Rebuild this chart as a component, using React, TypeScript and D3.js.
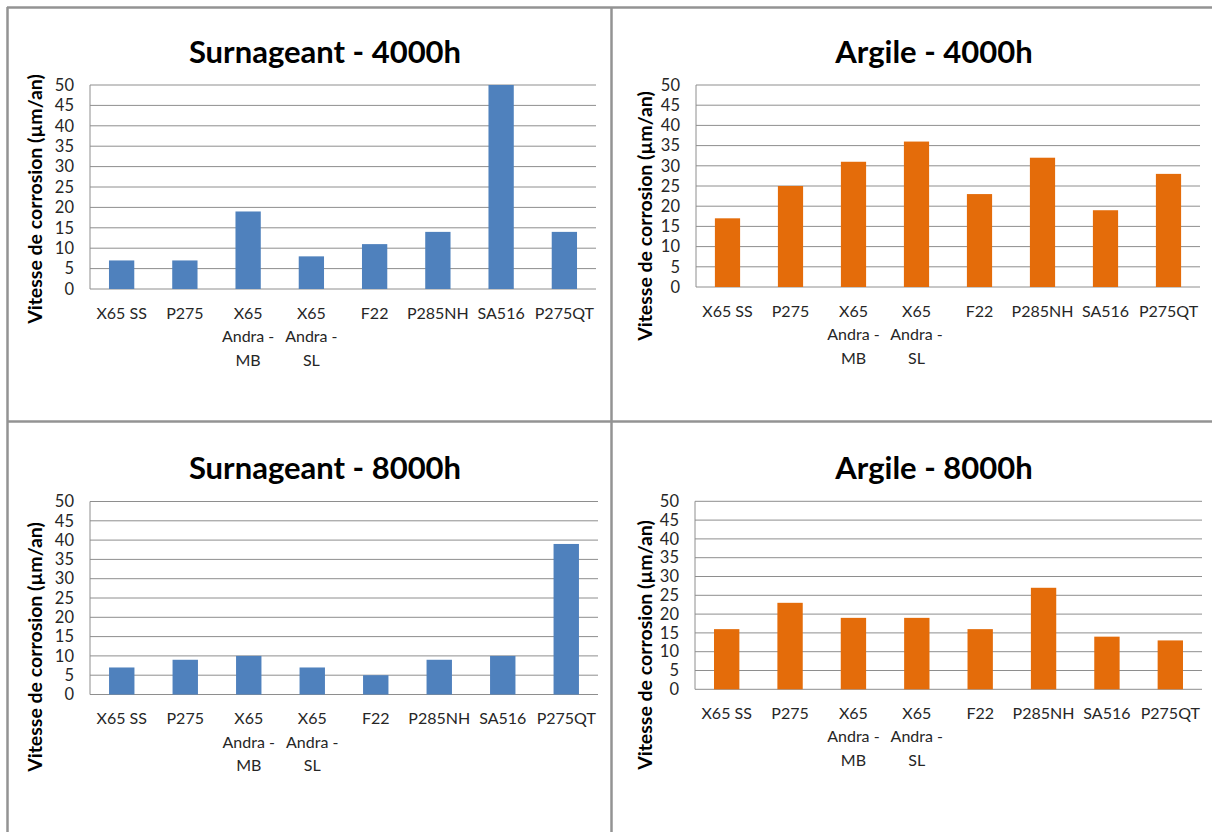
import React from "react";
import * as d3 from "d3";

const categories = [
  "X65 SS",
  "P275",
  "X65\nAndra -\nMB",
  "X65\nAndra -\nSL",
  "F22",
  "P285NH",
  "SA516",
  "P275QT",
];
const yTicks = [0, 5, 10, 15, 20, 25, 30, 35, 40, 45, 50];
const yLabel = "Vitesse de corrosion (µm/an)";

const surnageant4000 = [7, 7, 19, 8, 11, 14, 50, 14];
const argile4000 = [17, 25, 31, 36, 23, 32, 19, 28];
const surnageant8000 = [7, 9, 10, 7, 5, 9, 10, 39];
const argile8000 = [16, 23, 19, 19, 16, 27, 14, 13];

const BLUE = "#4f81bd";
const ORANGE = "#e46c0a";
const FONT = "Lato, 'Open Sans', sans-serif";

type ChartProps = {
  title: string;
  values: number[];
  color: string;
  left: number;
  right: number;
  top: number;
  bottom: number;
  titleX: number;
  titleY: number;
  labelX: number;
  labelY: number;
};

function Chart(p: ChartProps) {
  const x = d3.scaleBand<string>().domain(categories).range([p.left, p.right]).paddingInner(0.6).paddingOuter(0.3);
  const y = d3.scaleLinear().domain([0, 50]).range([p.bottom, p.top]);
  return (
    <g>
      <text x={p.titleX} y={p.titleY} textAnchor="middle" fontFamily={FONT} fontWeight="bold" fontSize={31} fill="#000">
        {p.title}
      </text>
      {yTicks.map((t) => (
        <g key={t}>
          <line x1={p.left} x2={p.right} y1={y(t)} y2={y(t)} stroke="#8e8e8e" strokeWidth={1} />
          <text x={p.left - 16} y={y(t)} dy="0.35em" textAnchor="end" fontFamily={FONT} fontSize={16.5} fill="#262626">
            {t}
          </text>
        </g>
      ))}
      <line x1={p.left} x2={p.left} y1={p.top} y2={p.bottom} stroke="#8e8e8e" strokeWidth={1} />
      {p.values.map((v, i) => (
        <rect
          key={i}
          x={x(categories[i])!}
          y={y(v)}
          width={x.bandwidth()}
          height={p.bottom - y(v)}
          fill={p.color}
        />
      ))}
      {categories.map((c) => {
        const cx = x(c)! + x.bandwidth() / 2;
        return c.split("\n").map((line, k) => (
          <text
            key={c + k}
            x={cx}
            y={p.bottom + 24 + k * 23.5}
            dy="0.35em"
            textAnchor="middle"
            fontFamily={FONT}
            fontSize={16}
            fill="#262626"
          >
            {line}
          </text>
        ));
      })}
      <text
        transform={`translate(${p.labelX},${p.labelY}) rotate(-90)`}
        textAnchor="middle"
        dy="0.35em"
        fontFamily={FONT}
        fontWeight="bold"
        fontSize={19.5}
        fill="#000"
      >
        {yLabel}
      </text>
    </g>
  );
}

export default function App() {
  const border = "#939393";
  return (
    <svg width={1212} height={832} style={{ position: "absolute", left: 0, top: 0, background: "#fff" }}>
      <rect x={0} y={0} width={1212} height={832} fill="#fff" />
      <Chart title="Surnageant - 4000h" values={surnageant4000} color={BLUE}
        left={90} right={596} top={85} bottom={289} titleX={325} titleY={63} labelX={35} labelY={199} />
      <Chart title="Argile - 4000h" values={argile4000} color={ORANGE}
        left={696} right={1200} top={85} bottom={287} titleX={934} titleY={63} labelX={645} labelY={216} />
      <Chart title="Surnageant - 8000h" values={surnageant8000} color={BLUE}
        left={90} right={598} top={501.5} bottom={694.5} titleX={325} titleY={479} labelX={35} labelY={647} />
      <Chart title="Argile - 8000h" values={argile8000} color={ORANGE}
        left={695} right={1202} top={501.3} bottom={689.3} titleX={934} titleY={479} labelX={645} labelY={645} />
      <line x1={7} x2={1212} y1={7.5} y2={7.5} stroke={border} strokeWidth={2.5} />
      <line x1={7.5} x2={7.5} y1={7} y2={832} stroke={border} strokeWidth={2.5} />
      <line x1={611.5} x2={611.5} y1={7} y2={832} stroke={border} strokeWidth={2.5} />
      <line x1={7} x2={1212} y1={421.5} y2={421.5} stroke={border} strokeWidth={2.5} />
    </svg>
  );
}
